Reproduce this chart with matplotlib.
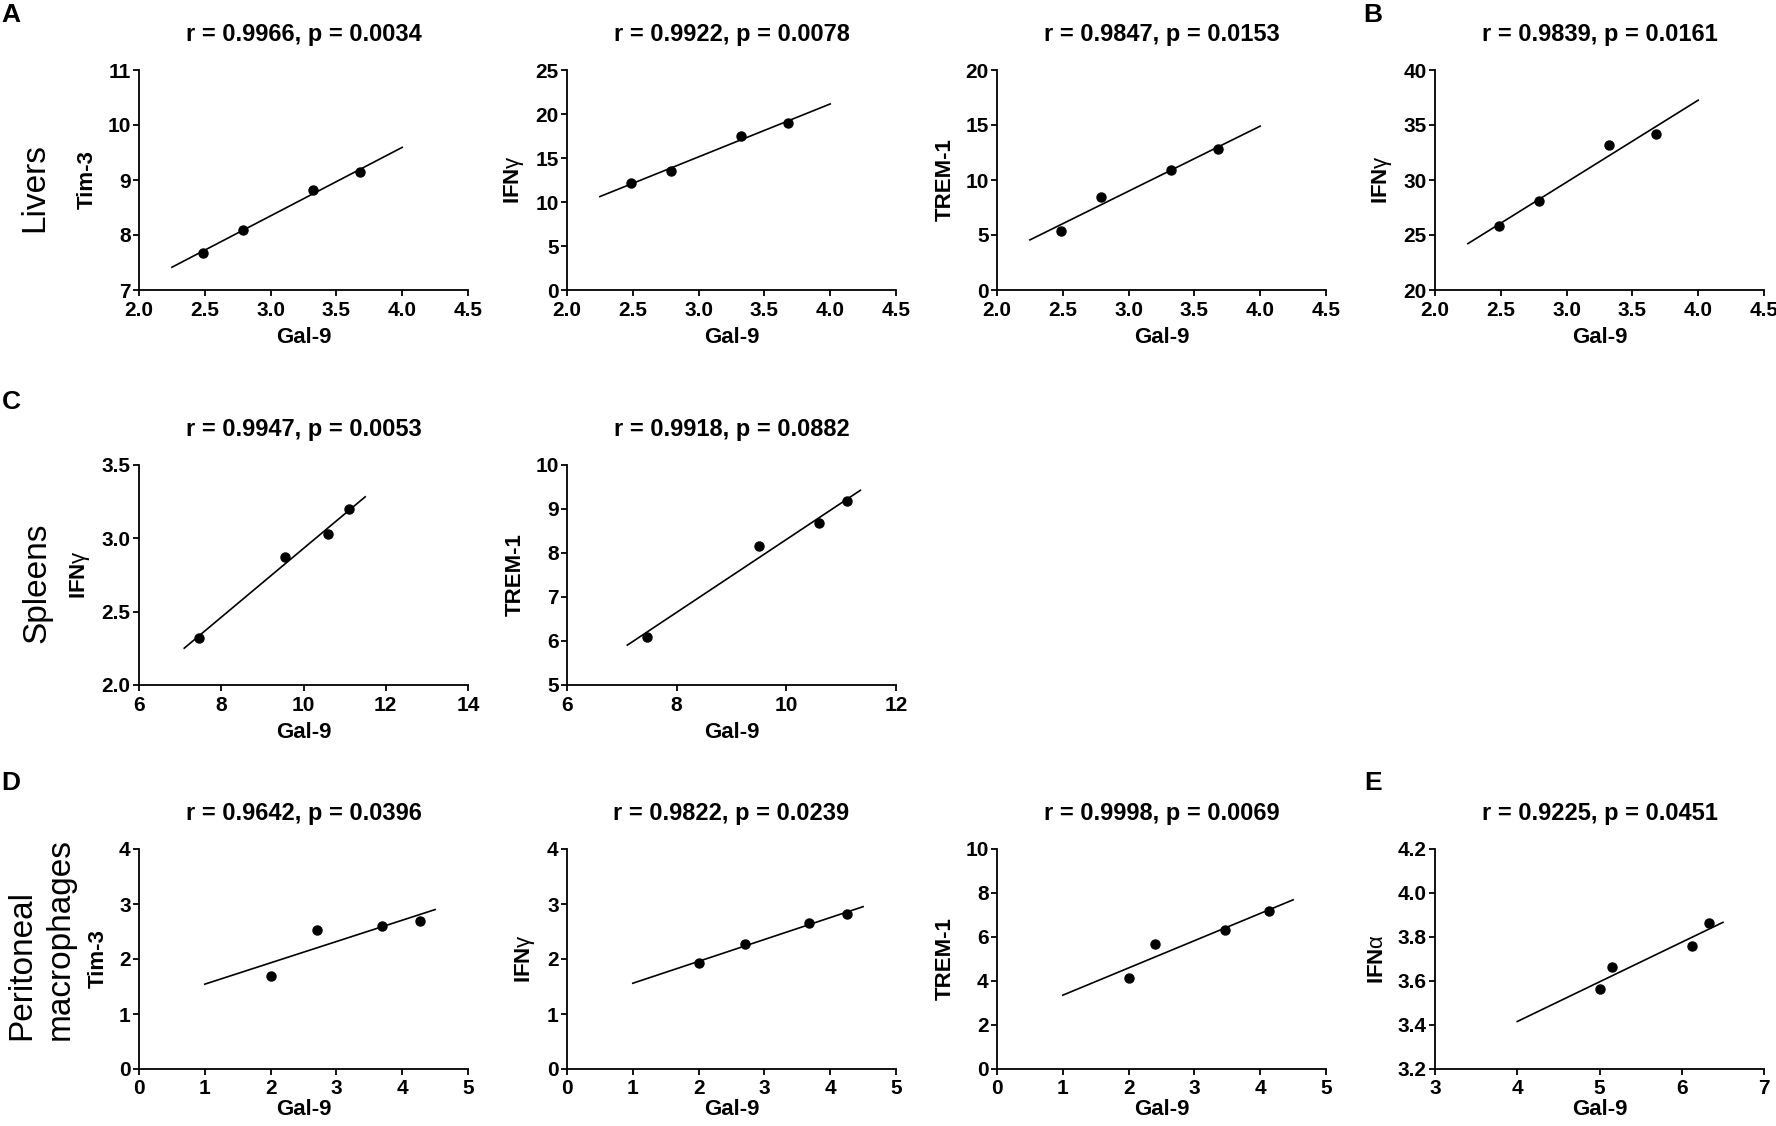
import numpy as np
import matplotlib
matplotlib.use('Agg')
import matplotlib.pyplot as plt

plt.rcParams['font.family'] = ['Liberation Sans', 'DejaVu Sans']
plt.rcParams['mathtext.fontset'] = 'custom'
plt.rcParams['mathtext.rm'] = 'Liberation Sans'
plt.rcParams['mathtext.it'] = 'Liberation Sans'
plt.rcParams['mathtext.bf'] = 'Liberation Sans:bold'

# ---------------- data ----------------
# Livers (A and B)
liver_gal9 = [2.49, 2.79, 3.32, 3.68]
liver_tim3 = [7.68, 8.10, 8.82, 9.14]
liver_ifng = [12.2, 13.5, 17.5, 19.0]
liver_trem1 = [5.4, 8.5, 10.9, 12.8]
liver_ifng_b = [25.8, 28.1, 33.2, 34.2]
liver_fit_range = [2.25, 4.0]

# Spleens (C)
spleen_gal9_ifng = [7.45, 9.55, 10.6, 11.1]
spleen_ifng = [2.32, 2.87, 3.03, 3.20]
spleen_gal9_trem1 = [7.45, 9.5, 10.6, 11.1]
spleen_trem1 = [6.1, 8.15, 8.68, 9.18]
spleen_ifng_fit_range = [7.1, 11.5]
spleen_trem1_fit_range = [7.1, 11.35]

# Peritoneal macrophages (D and E)
pm_gal9_tim3 = [2.0, 2.7, 3.7, 4.27]
pm_tim3 = [1.7, 2.53, 2.6, 2.7]
pm_gal9_ifng = [2.0, 2.7, 3.68, 4.25]
pm_ifng = [1.92, 2.28, 2.65, 2.82]
pm_gal9_trem1 = [2.0, 2.4, 3.47, 4.13]
pm_trem1 = [4.15, 5.68, 6.3, 7.2]
pm_fit_range = [1.0, 4.5]
pm_gal9_ifna = [5.0, 5.15, 6.13, 6.33]
pm_ifna = [3.565, 3.665, 3.76, 3.865]
pm_ifna_fit_range = [4.0, 6.5]

titles = ["r = 0.9966, p = 0.0034", "r = 0.9922, p = 0.0078", "r = 0.9847, p = 0.0153",
          "r = 0.9839, p = 0.0161", "r = 0.9947, p = 0.0053", "r = 0.9918, p = 0.0882",
          "r = 0.9642, p = 0.0396", "r = 0.9822, p = 0.0239", "r = 0.9998, p = 0.0069",
          "r = 0.9225, p = 0.0451"]

x_label = "Gal-9"
lab_tim3 = "Tim-3"
lab_ifng = r"IFN$\gamma$"
lab_trem1 = "TREM-1"
lab_ifna = r"IFN$\alpha$"

xt_liver = [2.0, 2.5, 3.0, 3.5, 4.0, 4.5]
xt_spleen1 = [6, 8, 10, 12, 14]
xt_spleen2 = [6, 8, 10, 12]
xt_pm = [0, 1, 2, 3, 4, 5]
xt_ifna = [3, 4, 5, 6, 7]
yt_a1 = [7, 8, 9, 10, 11]
yt_a2 = [0, 5, 10, 15, 20, 25]
yt_a3 = [0, 5, 10, 15, 20]
yt_b = [20, 25, 30, 35, 40]
yt_c1 = [2.0, 2.5, 3.0, 3.5]
yt_c2 = [5, 6, 7, 8, 9, 10]
yt_d1 = [0, 1, 2, 3, 4]
yt_d2 = [0, 1, 2, 3, 4]
yt_d3 = [0, 2, 4, 6, 8, 10]
yt_e = [3.2, 3.4, 3.6, 3.8, 4.0, 4.2]

panel_letters = ["A", "B", "C", "D", "E"]
row_labels = ["Livers", "Spleens", "Peritoneal\nmacrophages"]

# ---------------- layout ----------------
W, H = 1776, 1126
fig = plt.figure(figsize=(W / 100, H / 100), dpi=100)

col_left = [139, 567, 997, 1435]
row_top = [70, 465, 849]
row_xlabelpad = [5, 5, 1]
ax_w, ax_h = 329, 220


def make_ax(col, row):
    l = col_left[col] / W
    b = 1 - (row_top[row] + ax_h) / H
    return fig.add_axes([l, b, ax_w / W, ax_h / H])


panels = [
    (0, 0, liver_gal9, liver_tim3, liver_fit_range, xt_liver, yt_a1, "{:.1f}", "{:.0f}", lab_tim3, titles[0]),
    (1, 0, liver_gal9, liver_ifng, liver_fit_range, xt_liver, yt_a2, "{:.1f}", "{:.0f}", lab_ifng, titles[1]),
    (2, 0, liver_gal9, liver_trem1, liver_fit_range, xt_liver, yt_a3, "{:.1f}", "{:.0f}", lab_trem1, titles[2]),
    (3, 0, liver_gal9, liver_ifng_b, liver_fit_range, xt_liver, yt_b, "{:.1f}", "{:.0f}", lab_ifng, titles[3]),
    (0, 1, spleen_gal9_ifng, spleen_ifng, spleen_ifng_fit_range, xt_spleen1, yt_c1, "{:.0f}", "{:.1f}", lab_ifng, titles[4]),
    (1, 1, spleen_gal9_trem1, spleen_trem1, spleen_trem1_fit_range, xt_spleen2, yt_c2, "{:.0f}", "{:.0f}", lab_trem1, titles[5]),
    (0, 2, pm_gal9_tim3, pm_tim3, pm_fit_range, xt_pm, yt_d1, "{:.0f}", "{:.0f}", lab_tim3, titles[6]),
    (1, 2, pm_gal9_ifng, pm_ifng, pm_fit_range, xt_pm, yt_d2, "{:.0f}", "{:.0f}", lab_ifng, titles[7]),
    (2, 2, pm_gal9_trem1, pm_trem1, pm_fit_range, xt_pm, yt_d3, "{:.0f}", "{:.0f}", lab_trem1, titles[8]),
    (3, 2, pm_gal9_ifna, pm_ifna, pm_ifna_fit_range, xt_ifna, yt_e, "{:.0f}", "{:.1f}", lab_ifna, titles[9]),
]

for col, row, xs, ys, fr, xt, yt, xf, yf, ylab, title in panels:
    ax = make_ax(col, row)
    xs = np.asarray(xs)
    ys = np.asarray(ys)
    slope, inter = np.polyfit(xs, ys, 1)
    fx = np.array(fr)
    ax.plot(fx, slope * fx + inter, color='black', lw=1.2, zorder=2)
    ax.plot(xs, ys, 'o', color='black', ms=6.5, zorder=3, clip_on=False)
    ax.set_xlim(xt[0], xt[-1])
    ax.set_ylim(yt[0], yt[-1])
    ax.set_xticks(xt)
    ax.set_yticks(yt)
    ax.set_xticklabels([xf.format(v) for v in xt], fontweight='bold', fontsize=15)
    ax.set_yticklabels([yf.format(v) for v in yt], fontweight='bold', fontsize=15)
    for s in ['top', 'right']:
        ax.spines[s].set_visible(False)
    for s in ['left', 'bottom']:
        ax.spines[s].set_linewidth(1.3)
    ax.tick_params(axis='x', direction='out', length=4, width=1.3,
                   pad=4 if row < 2 else 3)
    ax.tick_params(axis='y', direction='out', length=4, width=1.3, pad=2)
    ax.set_xlabel(x_label, fontsize=16, fontweight='bold', labelpad=row_xlabelpad[row])
    ax.set_ylabel(ylab, fontsize=16, fontweight='bold', labelpad=7)
    ax.set_title(title, fontsize=17, fontweight='bold', pad=21)

# panel letters
letter_pos = [(11, 15), (1373, 15), (11, 402), (11, 783), (1373, 783)]
for letter, (px, py) in zip(panel_letters, letter_pos):
    fig.text(px / W, 1 - py / H, letter, fontsize=19, fontweight='bold',
             ha='center', va='center')

# row labels
fig.text(35 / W, 1 - 187 / H, row_labels[0], fontsize=24, rotation=90,
         ha='center', va='center')
fig.text(37 / W, 1 - 583 / H, row_labels[1], fontsize=24, rotation=90,
         ha='center', va='center')
fig.text(41 / W, 1 - 1040 / H, row_labels[2], fontsize=24, rotation=90,
         ha='center', va='bottom', multialignment='left', linespacing=1.3)

fig.savefig('out.png', dpi=100)
